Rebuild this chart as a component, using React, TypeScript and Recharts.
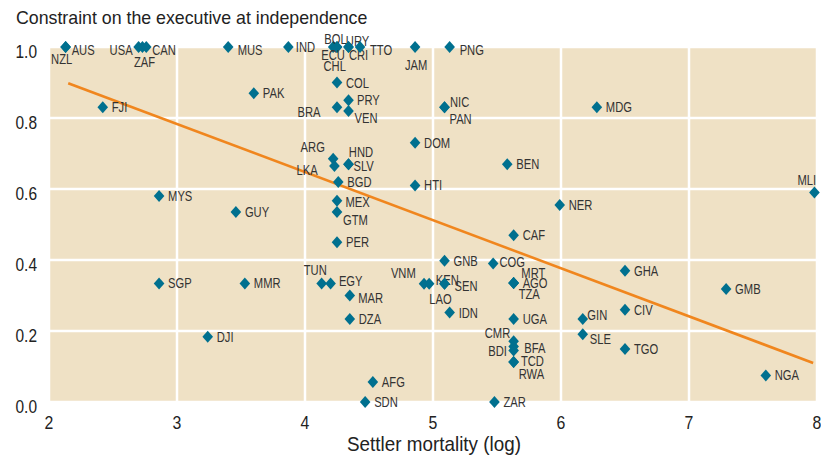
import { ScatterChart, Scatter, XAxis, YAxis, CartesianGrid } from 'recharts';

const codes = [
  'AUS', 'NZL', 'USA', 'ZAF', 'CAN', 'MUS', 'IND', 'CHL', 'BOL', 'ECU', 'URY', 'CRI', 'TTO', 'JAM', 'PNG',
  'COL', 'PAK', 'FJI', 'PRY', 'BRA', 'VEN', 'NIC', 'PAN', 'MDG', 'DOM', 'BEN', 'HTI', 'MLI', 'NER', 'CAF',
  'ARG', 'LKA', 'HND', 'SLV', 'BGD', 'MYS', 'GUY', 'MEX', 'GTM', 'PER', 'SGP', 'MMR', 'TUN', 'EGY', 'MAR',
  'DZA', 'DJI', 'VNM', 'KEN', 'SEN', 'LAO', 'GNB', 'COG', 'MRT', 'AGO', 'TZA', 'IDN', 'UGA', 'GIN', 'SLE',
  'GHA', 'CIV', 'GMB', 'TGO', 'CMR', 'BFA', 'BDI', 'TCD', 'RWA', 'ZAR', 'AFG', 'SDN', 'NGA',
];

// settler mortality (log)
const logMortality = [
  2.13, 2.13, 2.70, 2.73, 2.76, 3.40, 3.87, 4.22, 4.25, 4.25, 4.34, 4.34, 4.43, 4.86, 5.13,
  4.25, 3.60, 2.42, 4.34, 4.25, 4.34, 5.09, 5.09, 6.28, 4.86, 5.58, 4.86, 7.98, 5.99, 5.63,
  4.22, 4.23, 4.34, 4.34, 4.26, 2.86, 3.46, 4.25, 4.25, 4.25, 2.86, 3.53, 4.13, 4.20, 4.35,
  4.35, 3.24, 4.93, 4.97, 5.09, 5.09, 5.09, 5.47, 5.63, 5.63, 5.63, 5.13, 5.63, 6.17, 6.17,
  6.50, 6.50, 7.29, 6.50, 5.63, 5.63, 5.63, 5.63, 5.63, 5.48, 4.53, 4.47, 7.60,
];

// constraint on the executive at independence
const constraintExec = [
  1.0, 1.0, 1.0, 1.0, 1.0, 1.0, 1.0, 1.0, 1.0, 1.0, 1.0, 1.0, 1.0, 1.0, 1.0,
  0.90, 0.87, 0.83, 0.85, 0.83, 0.82, 0.83, 0.83, 0.83, 0.73, 0.67, 0.61, 0.59, 0.555, 0.47,
  0.685, 0.665, 0.67, 0.67, 0.62, 0.58, 0.535, 0.567, 0.535, 0.45, 0.334, 0.334, 0.334, 0.334, 0.30,
  0.234, 0.184, 0.333, 0.333, 0.333, 0.333, 0.398, 0.39, 0.335, 0.335, 0.335, 0.252, 0.234, 0.234, 0.191,
  0.37, 0.26, 0.318, 0.149, 0.171, 0.156, 0.145, 0.113, 0.113, 0.0, 0.056, 0.0, 0.075,
];

// fitted line, read at its two ends
const fitX = [2.15, 7.97];
const fitY = [0.898, 0.11];

const xTicks = [2, 3, 4, 5, 6, 7, 8];
const yTicks = [0, 0.2, 0.4, 0.6, 0.8, 1.0];

// label placement: [dx, dy, anchor]
const labelPlace: Record<string, [number, number, string]> = {
  AUS: [6, 7.5, 'start'],
  NZL: [-4, 17, 'middle'],
  USA: [-6, 8, 'end'],
  ZAF: [2, 20, 'middle'],
  CAN: [6, 7.5, 'start'],
  MUS: [9.5, 7.5, 'start'],
  IND: [7.5, 5, 'start'],
  BOL: [-1.5, -3.5, 'middle'],
  ECU: [-4, 12.5, 'middle'],
  CHL: [1.5, 24, 'middle'],
  URY: [9, -0.7, 'middle'],
  CRI: [10, 12.5, 'middle'],
  TTO: [10, 7.5, 'start'],
  JAM: [1, 22.5, 'middle'],
  PNG: [10, 7.5, 'start'],
  NIC: [5.5, -0.7, 'start'],
  PAN: [5, 16.5, 'start'],
  BRA: [-16.5, 10, 'end'],
  VEN: [6, 12.5, 'start'],
  PRY: [8.5, 5, 'start'],
  MLI: [1.7, -7.4, 'end'],
  ARG: [-8.3, -6.7, 'end'],
  LKA: [-16.7, 9.3, 'end'],
  HND: [0.3, -6.7, 'start'],
  SLV: [5, 7.3, 'start'],
  MEX: [8.4, 6.7, 'start'],
  GTM: [6, 12.7, 'start'],
  TUN: [-6.4, -8.7, 'middle'],
  EGY: [8.3, 3, 'start'],
  MAR: [8.4, 7.6, 'start'],
  VNM: [-8.3, -5.7, 'end'],
  KEN: [6.7, 1.7, 'start'],
  SEN: [10, 7, 'start'],
  LAO: [-4, 20.3, 'middle'],
  COG: [6.3, 3, 'start'],
  MRT: [7.7, -5, 'start'],
  TZA: [5, 16, 'start'],
  GIN: [4.6, 1, 'start'],
  SLE: [7, 10, 'start'],
  CMR: [-3.4, -3.4, 'end'],
  BDI: [-6.7, 5, 'end'],
  BFA: [10.6, 6.6, 'start'],
  TCD: [7.3, 4.4, 'start'],
  RWA: [5, 16.7, 'start'],
};

const points = codes.map((code, i) => ({ code, x: logMortality[i], y: constraintExec[i] }));
const fitData = fitX.map((x, i) => ({ x, y: fitY[i] }));

const FONT = "'Liberation Sans', Arial, sans-serif";
const TEAL = '#00708F';
const ORANGE = '#F0861E';

// condensed look: squeeze text horizontally around its anchor point
function Txt({ x, y, size, sx, anchor = 'start', fill = '#222', children }: any) {
  return (
    <text
      transform={`translate(${x},${y}) scale(${sx},1)`}
      textAnchor={anchor}
      fontSize={size}
      fontFamily={FONT}
      fill={fill}
    >
      {children}
    </text>
  );
}

function Diamond(props: any) {
  const { cx, cy } = props;
  const code = props.payload?.code ?? props.code;
  if (cx == null || cy == null) return <g />;
  const [dx, dy, anchor] = labelPlace[code] ?? [9, 5, 'start'];
  return (
    <g>
      <path d={`M${cx},${cy - 6} L${cx + 5.3},${cy} L${cx},${cy + 6} L${cx - 5.3},${cy} Z`} fill={TEAL} />
      <Txt x={cx + dx} y={cy + dy} size={14} sx={0.8} anchor={anchor} fill="#333">
        {code}
      </Txt>
    </g>
  );
}

function XTick(props: any) {
  const { x, payload } = props;
  return (
    <Txt x={x} y={429} size={18} sx={0.88} anchor="middle">
      {payload.value}
    </Txt>
  );
}

function YTick(props: any) {
  const { y, payload } = props;
  return (
    <Txt x={37} y={y + 11} size={18} sx={0.86} anchor="end">
      {Number(payload.value).toFixed(1)}
    </Txt>
  );
}

export default function App() {
  return (
    <div style={{ position: 'absolute', left: 0, top: 0, width: 821, height: 456, background: '#fff' }}>
      <ScatterChart width={821} height={456} margin={{ top: 47, right: 4, bottom: 24, left: 9 }}>
        <CartesianGrid fill="#EFE1C5" stroke="#fff" strokeWidth={2.5} horizontalValues={yTicks} verticalValues={xTicks} />
        <XAxis type="number" dataKey="x" domain={[2, 8]} ticks={xTicks} height={30} axisLine={false} tickLine={false} tick={<XTick />} />
        <YAxis type="number" dataKey="y" domain={[0, 1]} ticks={yTicks} width={40} axisLine={false} tickLine={false} tick={<YTick />} />
        <Scatter data={fitData} line={{ stroke: ORANGE, strokeWidth: 2.6 }} shape={() => <g />} isAnimationActive={false} />
        <Scatter data={points} shape={<Diamond />} isAnimationActive={false} />
      </ScatterChart>
      <svg width={821} height={456} style={{ position: 'absolute', left: 0, top: 0, pointerEvents: 'none' }}>
        <Txt x={16} y={24} size={18.5} sx={0.96}>
          Constraint on the executive at independence
        </Txt>
        <Txt x={434} y={451} size={20.5} sx={0.92} anchor="middle">
          Settler mortality (log)
        </Txt>
      </svg>
    </div>
  );
}
